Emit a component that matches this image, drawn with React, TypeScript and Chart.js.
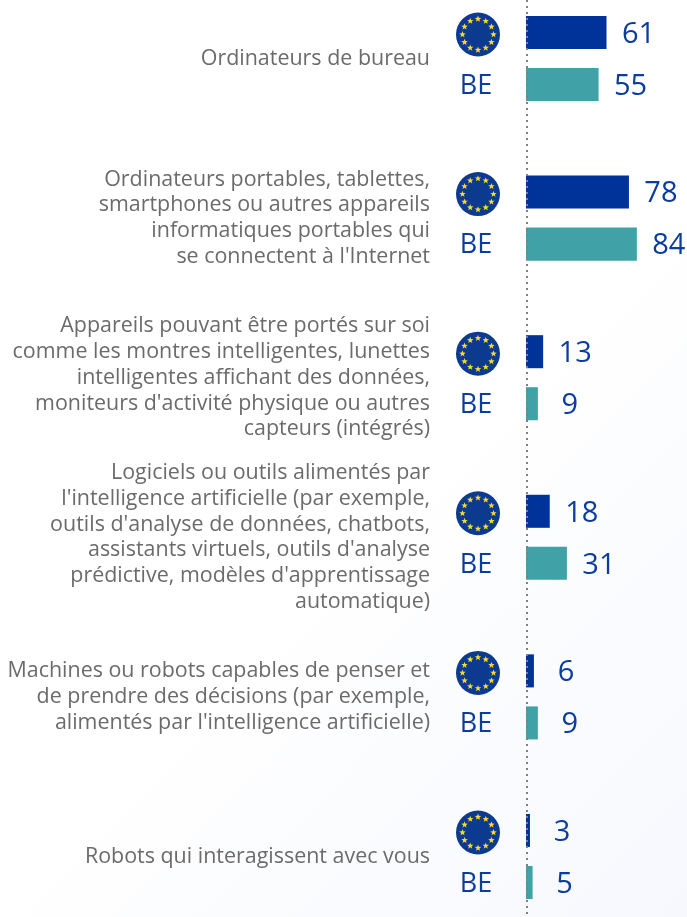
import React, { useEffect, useRef } from "react";
import { Chart, registerables } from "chart.js";

Chart.register(...registerables);

const categories: string[][] = [
  ["Ordinateurs de bureau"],
  ["Ordinateurs portables, tablettes,", "smartphones ou autres appareils", "informatiques portables qui", "se connectent à l'Internet"],
  ["Appareils pouvant être portés sur soi", "comme les montres intelligentes, lunettes", "intelligentes affichant des données,", "moniteurs d'activité physique ou autres", "capteurs (intégrés)"],
  ["Logiciels ou outils alimentés par", "l'intelligence artificielle (par exemple,", "outils d'analyse de données, chatbots,", "assistants virtuels, outils d'analyse", "prédictive, modèles d'apprentissage", "automatique)"],
  ["Machines ou robots capables de penser et", "de prendre des décisions (par exemple,", "alimentés par l'intelligence artificielle)"],
  ["Robots qui interagissent avec vous"],
];
const euValues = [61, 78, 13, 18, 6, 3];
const beValues = [55, 84, 9, 31, 9, 5];

const BLUE = "#003399";
const TEAL = "#40a1a6";
const TEXT_BLUE = "#0b3c9e";
const VALUE_FONT = '29px "Open Sans"';

function star(ctx: CanvasRenderingContext2D, cx: number, cy: number, r: number) {
  ctx.beginPath();
  for (let i = 0; i < 10; i++) {
    const rad = i % 2 === 0 ? r : r * 0.42;
    const a = -Math.PI / 2 + (i * Math.PI) / 5;
    const x = cx + rad * Math.cos(a);
    const y = cy + rad * Math.sin(a);
    if (i === 0) ctx.moveTo(x, y);
    else ctx.lineTo(x, y);
  }
  ctx.closePath();
  ctx.fill();
}

const decorations = {
  id: "decorations",
  afterDatasetsDraw(chart: any) {
    const { ctx, scales } = chart;
    const zero = scales.x.getPixelForValue(0);
    ctx.save();

    // dotted baseline above the bars
    ctx.strokeStyle = "#808080";
    ctx.lineWidth = 2;
    ctx.setLineDash([2, 4]);
    ctx.beginPath();
    ctx.moveTo(zero + 1, 0);
    ctx.lineTo(zero + 1, chart.height);
    ctx.stroke();
    ctx.setLineDash([]);

    ctx.textAlign = "center";
    ctx.textBaseline = "middle";
    chart.data.datasets.forEach((ds: any, di: number) => {
      chart.getDatasetMeta(di).data.forEach((bar: any, i: number) => {
        ctx.font = VALUE_FONT;
        ctx.fillStyle = TEXT_BLUE;
        ctx.fillText(String(ds.data[i]), bar.x + 32, bar.y + 2);

        if (di === 0) {
          const fx = 478;
          const fy = bar.y + 2;
          ctx.fillStyle = "#0b3a8f";
          ctx.beginPath();
          ctx.arc(fx, fy, 22, 0, Math.PI * 2);
          ctx.fill();
          ctx.fillStyle = "#f7d930";
          for (let s = 0; s < 12; s++) {
            const a = (s * Math.PI) / 6;
            star(ctx, fx + 15.5 * Math.sin(a), fy - 15.5 * Math.cos(a), 3.4);
          }
        } else {
          ctx.font = '27px "Open Sans"';
          ctx.fillStyle = TEXT_BLUE;
          ctx.fillText("BE", 476, bar.y + 1.5);
        }
      });
    });
    ctx.restore();
  },
};

export default function App() {
  const ref = useRef<HTMLCanvasElement>(null);

  useEffect(() => {
    const chart = new Chart(ref.current!, {
      type: "bar",
      data: {
        labels: categories as any,
        datasets: [
          { label: "EU", data: euValues, backgroundColor: BLUE, clip: false as any },
          { label: "BE", data: beValues, backgroundColor: TEAL, clip: false as any },
        ],
      },
      options: {
        indexAxis: "y",
        animation: false,
        responsive: false,
        layout: { padding: { top: 58.5, bottom: 60.5, left: 0, right: 0 } },
        categoryPercentage: 0.652,
        barPercentage: 0.635,
        plugins: { legend: { display: false }, tooltip: { enabled: false } },
        scales: {
          x: { display: false, min: 0, max: 122 },
          y: {
            offset: false,
            afterFit(scale: any) {
              scale.width = 526;
              scale.paddingTop = 0;
              scale.paddingBottom = 0;
            },
            border: { display: false },
            grid: { display: false, drawTicks: false },
            ticks: {
              autoSkip: false,
              padding: 96,
              color: "#6b6b6b",
              font: { family: '"Open Sans"', size: 21.45, lineHeight: 1.2 },
            },
          },
        },
      } as any,
      plugins: [decorations],
    });
    return () => chart.destroy();
  }, []);

  return (
    <div
      style={{
        position: "fixed",
        inset: 0,
        background: "linear-gradient(135deg, #ffffff 55%, #f6f8fd 100%)",
      }}
    >
      <canvas ref={ref} width={687} height={917} style={{ display: "block" }} />
    </div>
  );
}
